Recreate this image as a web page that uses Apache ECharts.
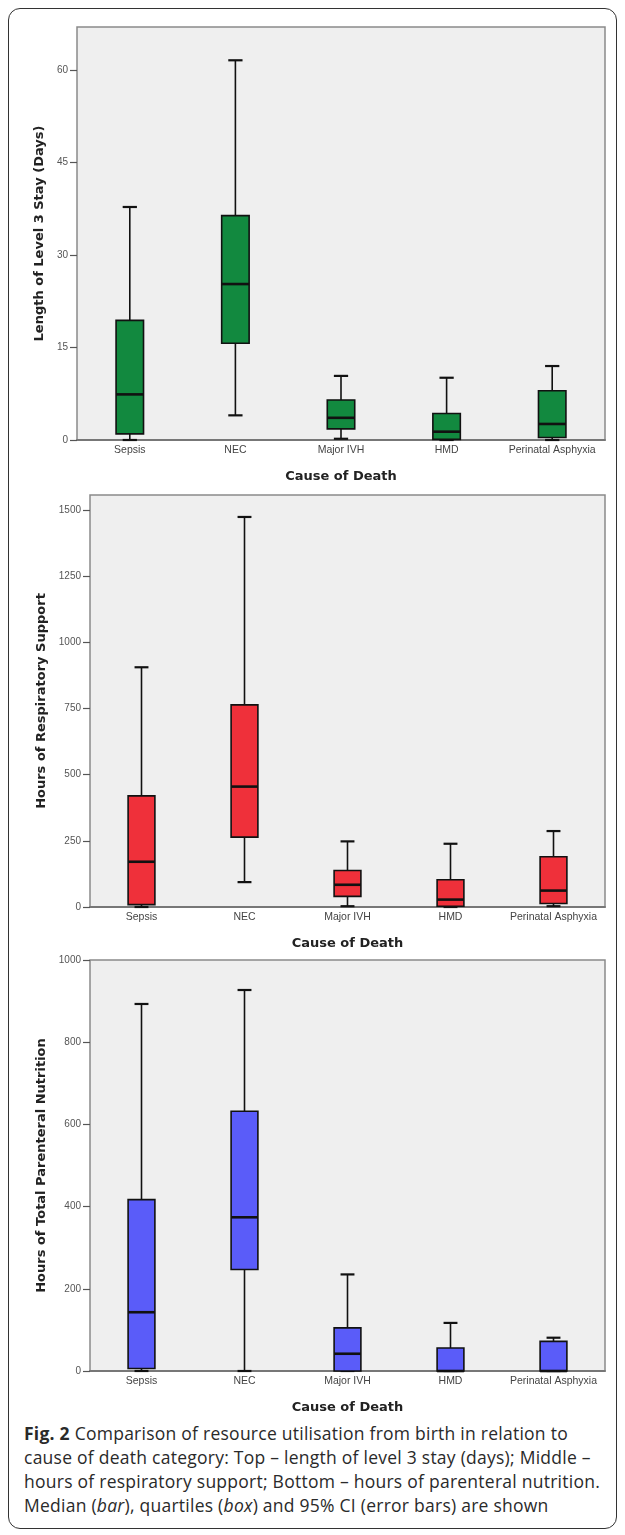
<!DOCTYPE html>
<html><head><meta charset="utf-8">
<script src="https://cdn.jsdelivr.net/npm/echarts@6/dist/echarts.min.js"></script>
<style>
html,body{margin:0;padding:0;background:#fff;}
#frame{position:absolute;left:8px;top:8px;width:609px;height:1521px;border:1.5px solid #333;border-radius:12px;box-sizing:border-box;}
#chart{position:absolute;left:0;top:0;width:625px;height:1415px;}
#caption{position:absolute;left:24px;top:1421px;width:595px;font-family:'Open Sans',sans-serif;font-size:17.5px;letter-spacing:0.25px;line-height:24px;color:#2a2a2a;white-space:nowrap;}
</style></head><body>
<div id="frame"></div>
<div id="chart"></div>
<div id="caption"><b>Fig. 2</b> Comparison of resource utilisation from birth in relation to<br>cause of death category: Top – length of level 3 stay (days); Middle –<br>hours of respiratory support; Bottom – hours of parenteral nutrition.<br>Median (<i>bar</i>), quartiles (<i>box</i>) and 95% CI (error bars) are shown</div>
<script>
// Categories
const categories = ['Sepsis', 'NEC', 'Major IVH', 'HMD', 'Perinatal Asphyxia'];
// Each entry: [lower whisker, Q1, median, Q3, upper whisker]
const stayDays = [
  [0, 1.0, 7.4, 19.4, 37.8],
  [4.0, 15.7, 25.3, 36.4, 61.6],
  [0.2, 1.8, 3.6, 6.5, 10.4],
  [0, 0.1, 1.35, 4.3, 10.1],
  [0, 0.4, 2.6, 8.0, 12.0]
];
const respHours = [
  [0, 9, 171, 420, 906],
  [94, 264, 455, 764, 1474],
  [3, 40, 84, 138, 248],
  [0, 3, 28, 103, 239],
  [3, 13, 62, 190, 287]
];
const tpnHours = [
  [0, 6, 143, 417, 893],
  [0, 247, 374, 632, 927],
  [0, 0, 42, 105, 235],
  [0, 0, 0, 56, 117],
  [0, 0, 0, 72, 81]
];
// Tick labels
const stayTicks = [0, 15, 30, 45, 60];
const respTicks = [0, 250, 500, 750, 1000, 1250, 1500];
const tpnTicks = [0, 200, 400, 600, 800, 1000];

const toData = arr => arr.map((v, i) => [i].concat(v));

function makeRender(color) {
  return function (params, api) {
    const x = api.value(0);
    const lo = api.value(1), q1 = api.value(2), med = api.value(3), q3 = api.value(4), hi = api.value(5);
    const band = api.size([1, 0])[0];
    const bw = band * 0.26, cw = band * 0.135;
    const pLo = api.coord([x, lo]), pQ1 = api.coord([x, q1]), pMed = api.coord([x, med]),
          pQ3 = api.coord([x, q3]), pHi = api.coord([x, hi]);
    const cx = pLo[0];
    const ls = {stroke: '#111', lineWidth: 1.6};
    return {type: 'group', children: [
      {type: 'line', shape: {x1: cx, y1: pHi[1], x2: cx, y2: pQ3[1]}, style: ls},
      {type: 'line', shape: {x1: cx, y1: pQ1[1], x2: cx, y2: pLo[1]}, style: ls},
      {type: 'line', shape: {x1: cx - cw / 2, y1: pHi[1], x2: cx + cw / 2, y2: pHi[1]}, style: {stroke: '#111', lineWidth: 2.2}},
      {type: 'line', shape: {x1: cx - cw / 2, y1: pLo[1], x2: cx + cw / 2, y2: pLo[1]}, style: {stroke: '#111', lineWidth: 2.2}},
      {type: 'rect', shape: {x: cx - bw / 2, y: pQ3[1], width: bw, height: pQ1[1] - pQ3[1]}, style: {fill: color, stroke: '#111', lineWidth: 1.6}},
      {type: 'line', shape: {x1: cx - bw / 2, y1: pMed[1], x2: cx + bw / 2, y2: pMed[1]}, style: {stroke: '#111', lineWidth: 2.6}}
    ]};
  };
}

const grids = [
  {left: 77, top: 27, width: 528, height: 413},
  {left: 90, top: 495, width: 515, height: 412},
  {left: 90, top: 960, width: 515, height: 412}
].map(g => Object.assign(g, {show: true, backgroundColor: '#efefef', borderColor: '#8a8a8a', borderWidth: 1.5}));

const nameStyleY = {fontFamily: 'DejaVu Sans', fontWeight: 'bold', fontSize: 13, color: '#222'};
const nameStyleX = {fontFamily: 'DejaVu Sans', fontWeight: 'bold', fontSize: 13, color: '#222'};

function xAx(i) {
  return {
    gridIndex: i, type: 'category', data: categories,
    axisLine: {lineStyle: {color: '#777', width: 1.8}},
    axisTick: {alignWithLabel: true, length: 6, lineStyle: {color: '#555', width: 1.2}},
    axisLabel: {interval: 0, fontSize: 10.5, color: '#444', margin: 5, fontFamily: 'Liberation Sans'},
    name: 'Cause of Death', nameLocation: 'middle', nameGap: 30, nameTextStyle: nameStyleX
  };
}
function yAx(i, max, ticks, name, gap) {
  return {
    gridIndex: i, type: 'value', min: 0, max: max,
    axisLine: {show: false}, splitLine: {show: false},
    axisTick: {show: true, length: 7, lineStyle: {color: '#555', width: 1.2}, customValues: ticks},
    axisLabel: {fontSize: 10, color: '#555', margin: 9, fontFamily: 'Liberation Sans', customValues: ticks, formatter: v => String(v)},
    name: name, nameLocation: 'middle', nameGap: gap, nameTextStyle: nameStyleY
  };
}

const chart = echarts.init(document.getElementById('chart'), null, {renderer: 'canvas'});
chart.setOption({
  animation: false,
  grid: grids,
  xAxis: [xAx(0), xAx(1), xAx(2)],
  yAxis: [
    yAx(0, 67, stayTicks, 'Length of Level 3 Stay (Days)', 25),
    yAx(1, 1557, respTicks, 'Hours of Respiratory Support', 38),
    yAx(2, 1000, tpnTicks, 'Hours of Total Parenteral Nutrition', 38)
  ],
  series: [
    {type: 'custom', xAxisIndex: 0, yAxisIndex: 0, renderItem: makeRender('#12893f'), data: toData(stayDays), encode: {x: 0, y: [1, 2, 3, 4, 5]}},
    {type: 'custom', xAxisIndex: 1, yAxisIndex: 1, renderItem: makeRender('#ef303a'), data: toData(respHours), encode: {x: 0, y: [1, 2, 3, 4, 5]}},
    {type: 'custom', xAxisIndex: 2, yAxisIndex: 2, renderItem: makeRender('#5a5cf9'), data: toData(tpnHours), encode: {x: 0, y: [1, 2, 3, 4, 5]}}
  ]
});
</script>
</body></html>
